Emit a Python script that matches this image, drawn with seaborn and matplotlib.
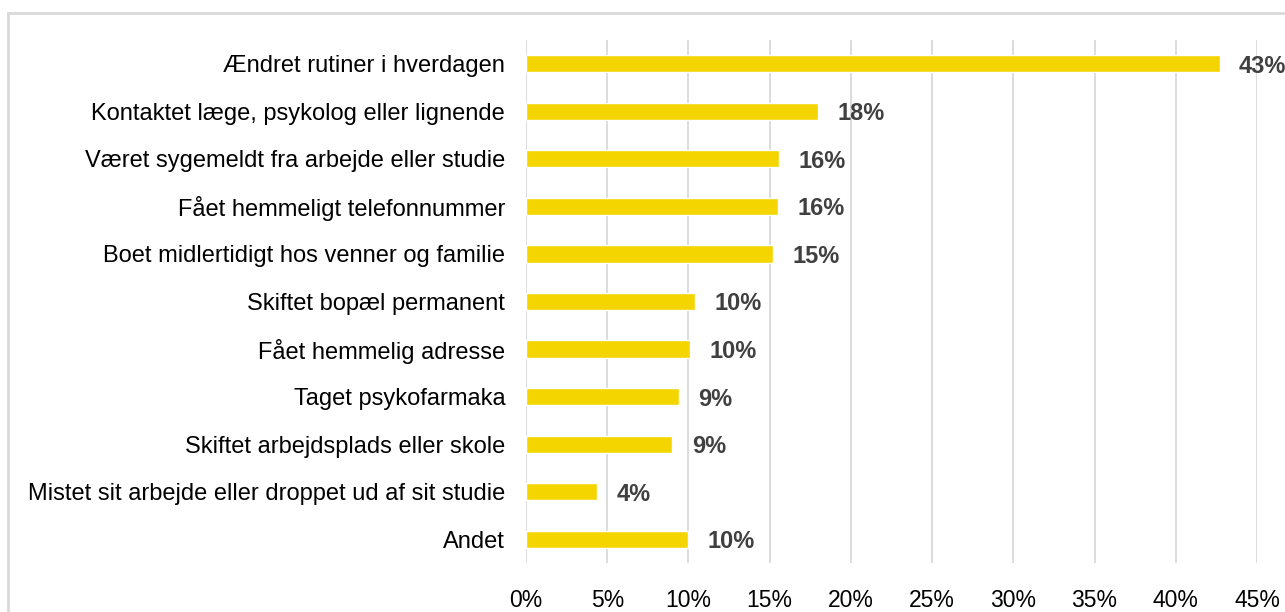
import matplotlib
matplotlib.use("Agg")
import matplotlib.pyplot as plt
import seaborn as sns
import pandas as pd
from matplotlib.patches import Rectangle

categories = [
    "Ændret rutiner i hverdagen",
    "Kontaktet læge, psykolog eller lignende",
    "Været sygemeldt fra arbejde eller studie",
    "Fået hemmeligt telefonnummer",
    "Boet midlertidigt hos venner og familie",
    "Skiftet bopæl permanent",
    "Fået hemmelig adresse",
    "Taget psykofarmaka",
    "Skiftet arbejdsplads eller skole",
    "Mistet sit arbejde eller droppet ud af sit studie",
    "Andet",
]
values = [42.7, 18.0, 15.6, 15.5, 15.2, 10.4, 10.1, 9.4, 9.0, 4.4, 10.0]
xticks = [0, 5, 10, 15, 20, 25, 30, 35, 40, 45]

sns.set_theme(style="white")
plt.rcParams["font.family"] = ["Liberation Sans", "DejaVu Sans"]

df = pd.DataFrame({"cat": categories, "val": values})

fig = plt.figure(figsize=(12.85, 6.12), dpi=100)
ax = fig.add_axes([526 / 1285, 1 - 563 / 612, (1257 - 526) / 1285, (563 - 40) / 612])

sns.barplot(data=df, y="cat", x="val", orient="h", color="#F5D500",
            saturation=1, width=0.36, ax=ax, zorder=3)

ax.set_xlim(0, 45)
ax.set_ylim(10.5, -0.5)
ax.set_xticks(xticks)
ax.set_xticklabels([f"{t}%" for t in xticks], fontsize=16.5, color="#000000")
ax.tick_params(axis="x", length=0, pad=19)
ax.tick_params(axis="y", length=0, pad=15, labelsize=17, labelcolor="#000000")
for lbl in ax.get_yticklabels():
    lbl.set_verticalalignment("center_baseline")
ax.set_xlabel("")
ax.set_ylabel("")
ax.grid(axis="x", color="#D9D9D9", linewidth=1.3, zorder=0)
ax.grid(axis="y", visible=False)
for s in ax.spines.values():
    s.set_visible(False)

for i, v in enumerate(values):
    ax.annotate(f"{round(v)}%", xy=(v, i), xytext=(14, 0), textcoords="offset points",
                ha="left", va="center_baseline", fontsize=17, fontweight="bold",
                color="#404040")

# outer frame
fig.patches.append(Rectangle((8 / 1285, -0.1), 1.2, 1 - 13 / 612 + 0.1,
                             transform=fig.transFigure, fill=False,
                             edgecolor="#D9D9D9", linewidth=2))

fig.savefig("out.png", dpi=100)
